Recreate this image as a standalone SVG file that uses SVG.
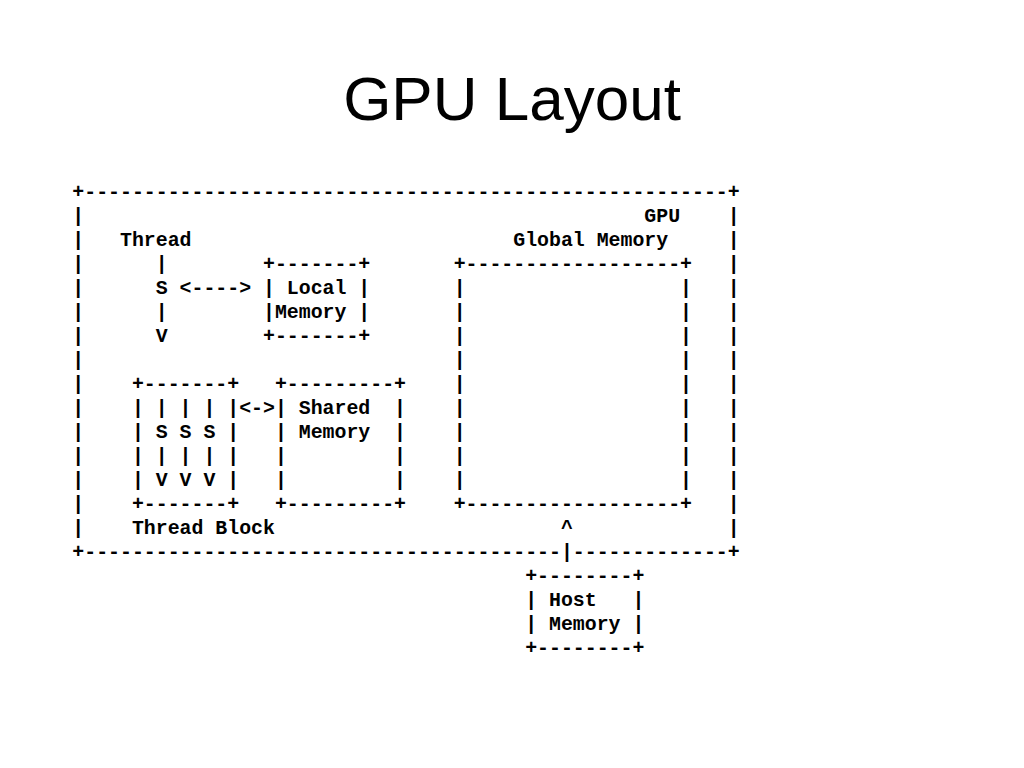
<svg xmlns="http://www.w3.org/2000/svg" width="1024" height="768" viewBox="0 0 1024 768" xml:space="preserve">
<style>
.t{font-family:"Liberation Sans",Arial,sans-serif;font-size:62px;fill:#000}
text.m{font-family:"Liberation Mono","Courier New",monospace;font-size:19.88px;font-weight:bold;fill:#000;white-space:pre}
</style>
<rect width="1024" height="768" fill="#fff"/>
<text class="t" x="512" y="120" text-anchor="middle">GPU Layout</text>
<g id="ascii">
<text class="m" xml:space="preserve" x="72.3" y="198">+------------------------------------------------------+</text>
<text class="m" xml:space="preserve" x="72.3" y="222">|                                               GPU    |</text>
<text class="m" xml:space="preserve" x="72.3" y="246">|   Thread                           Global Memory     |</text>
<text class="m" xml:space="preserve" x="72.3" y="270">|      |        +-------+       +------------------+   |</text>
<text class="m" xml:space="preserve" x="72.3" y="294">|      S &lt;----&gt; | Local |       |                  |   |</text>
<text class="m" xml:space="preserve" x="72.3" y="318">|      |        |Memory |       |                  |   |</text>
<text class="m" xml:space="preserve" x="72.3" y="342">|      V        +-------+       |                  |   |</text>
<text class="m" xml:space="preserve" x="72.3" y="366">|                               |                  |   |</text>
<text class="m" xml:space="preserve" x="72.3" y="390">|    +-------+   +---------+    |                  |   |</text>
<text class="m" xml:space="preserve" x="72.3" y="414">|    | | | | |&lt;-&gt;| Shared  |    |                  |   |</text>
<text class="m" xml:space="preserve" x="72.3" y="438">|    | S S S |   | Memory  |    |                  |   |</text>
<text class="m" xml:space="preserve" x="72.3" y="462">|    | | | | |   |         |    |                  |   |</text>
<text class="m" xml:space="preserve" x="72.3" y="486">|    | V V V |   |         |    |                  |   |</text>
<text class="m" xml:space="preserve" x="72.3" y="510">|    +-------+   +---------+    +------------------+   |</text>
<text class="m" xml:space="preserve" x="72.3" y="534">|    Thread Block                        ^             |</text>
<text class="m" xml:space="preserve" x="72.3" y="558">+----------------------------------------|-------------+</text>
<text class="m" xml:space="preserve" x="72.3" y="582">                                      +--------+</text>
<text class="m" xml:space="preserve" x="72.3" y="606">                                      | Host   |</text>
<text class="m" xml:space="preserve" x="72.3" y="630">                                      | Memory |</text>
<text class="m" xml:space="preserve" x="72.3" y="654">                                      +--------+</text>
</g>
</svg>
